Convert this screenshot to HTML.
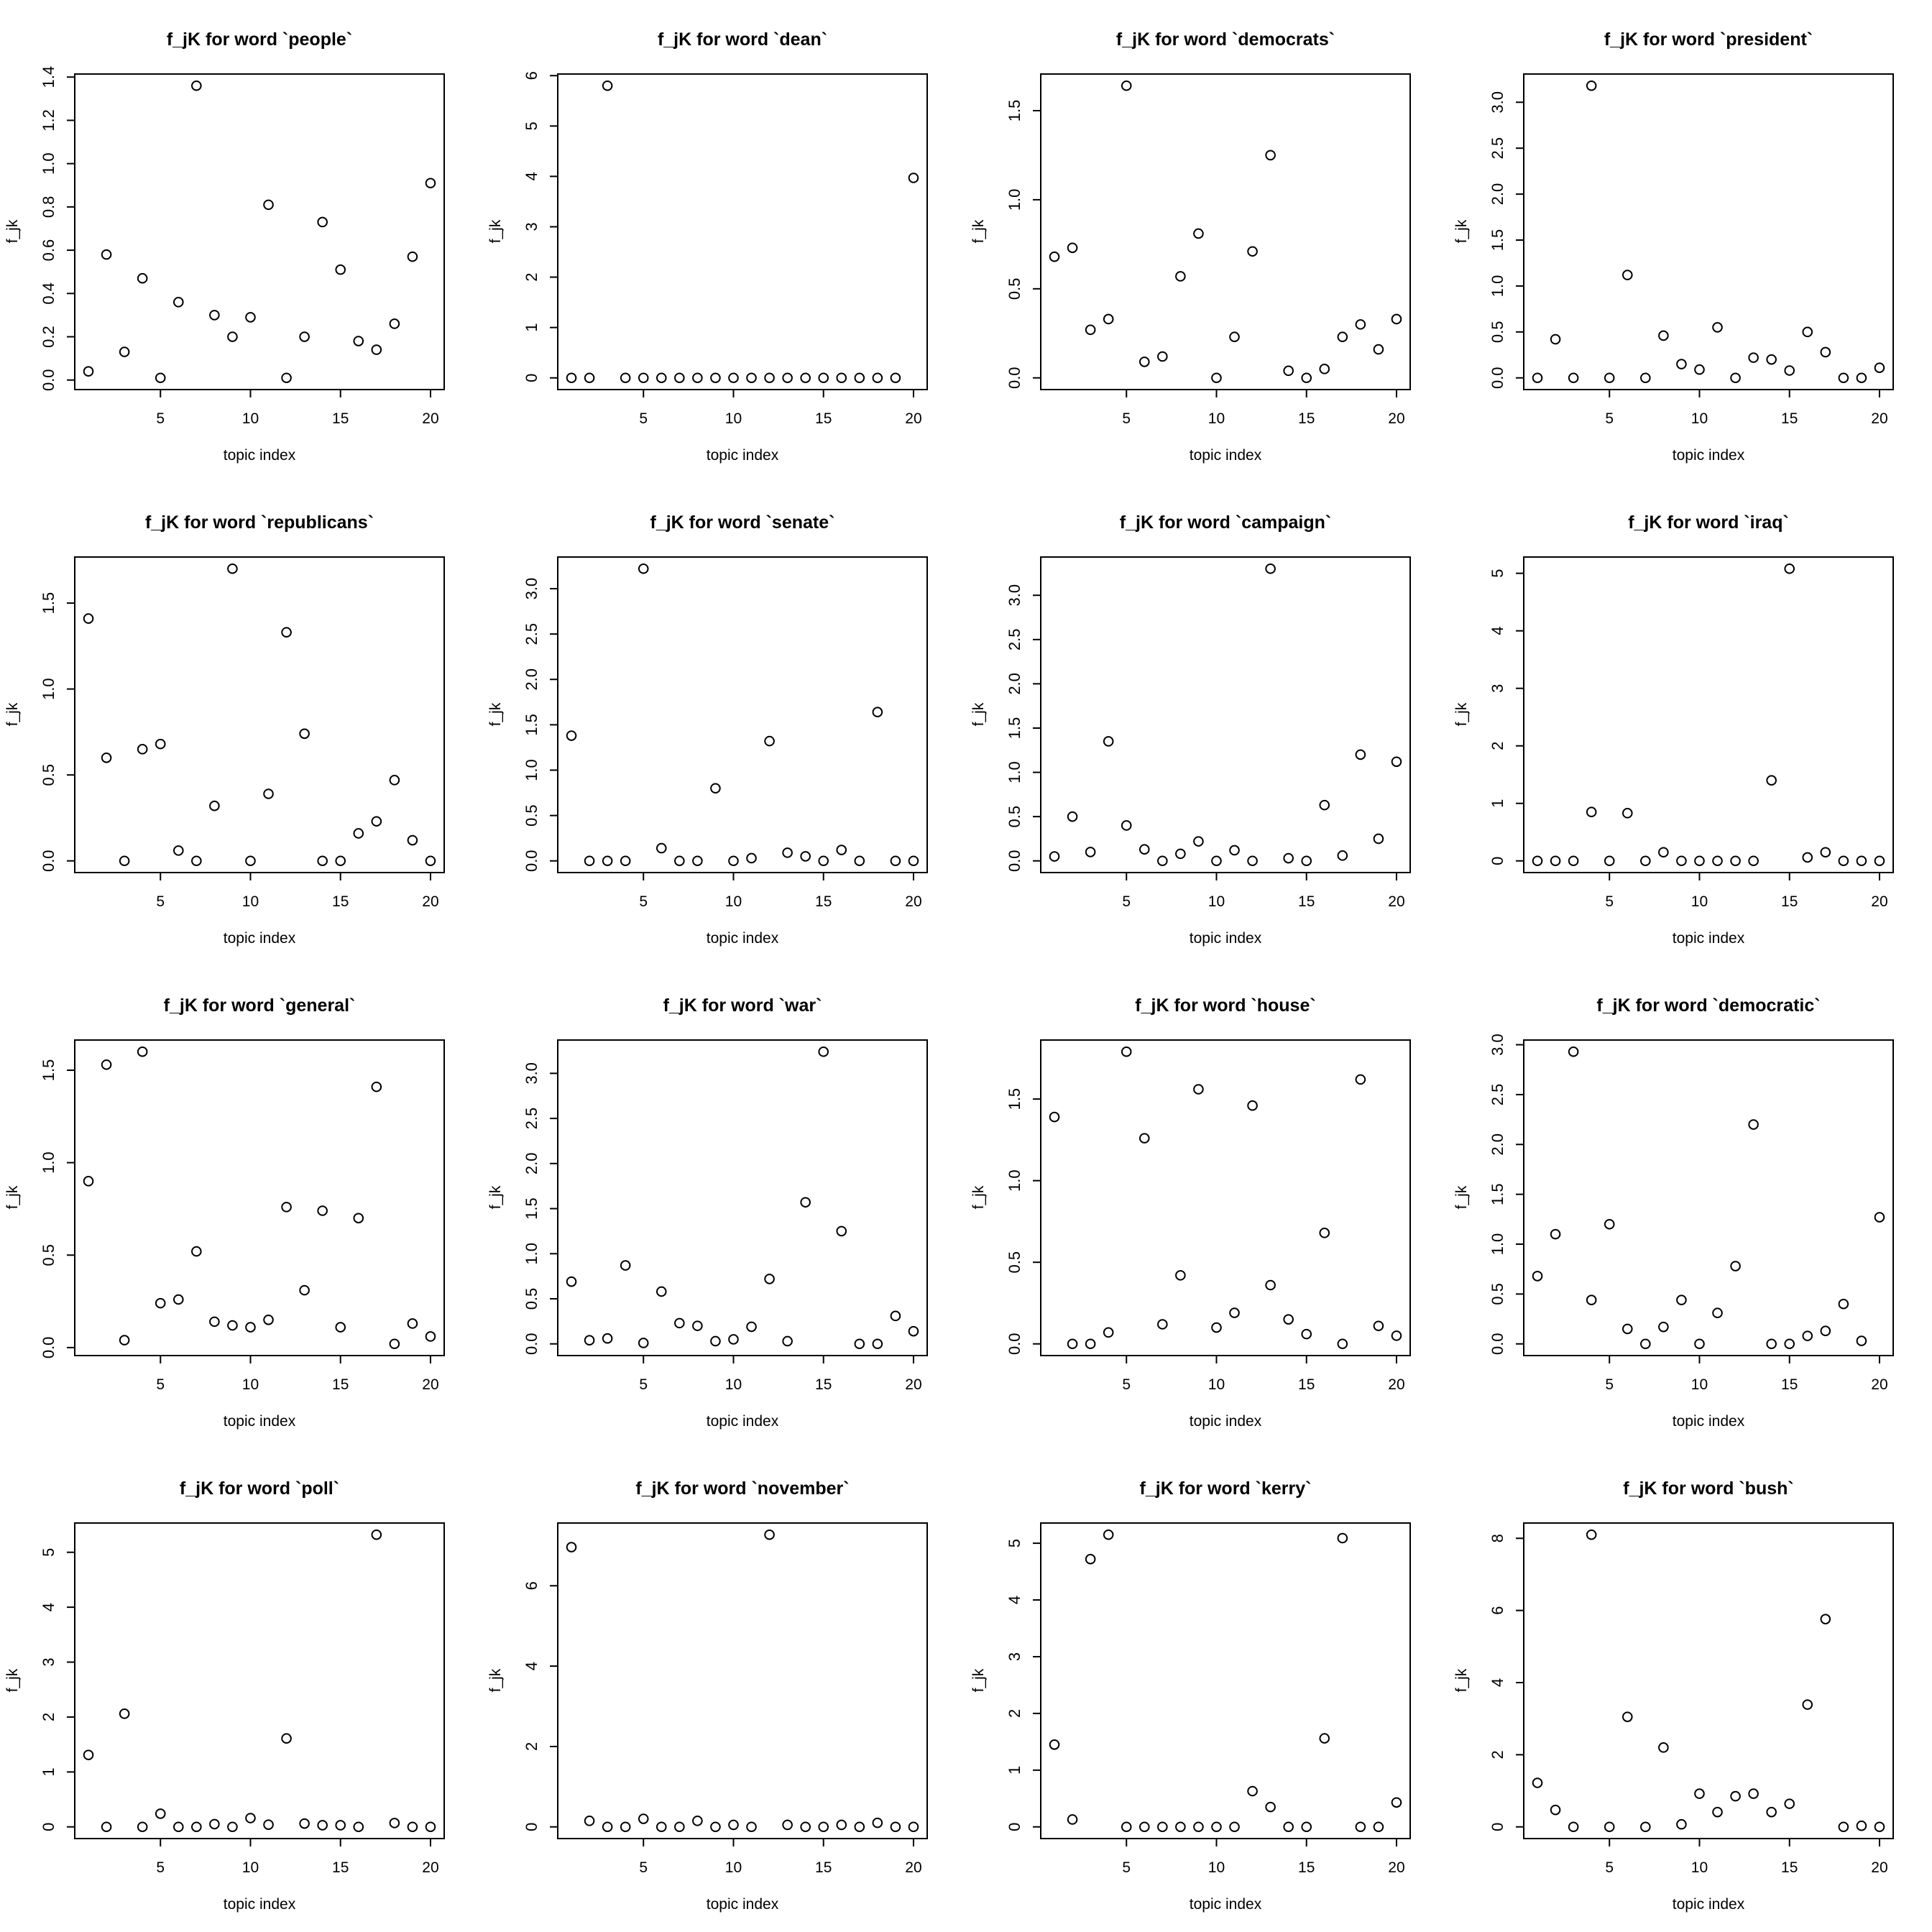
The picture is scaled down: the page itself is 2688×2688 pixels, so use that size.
<!DOCTYPE html>
<html><head><meta charset="utf-8"><style>
html,body{margin:0;padding:0;background:#fff}
svg{display:block}
text{font-family:"Liberation Sans",Arial,sans-serif;fill:#000}
</style></head><body>
<svg id="s" xmlns="http://www.w3.org/2000/svg" width="2688" height="2688" viewBox="0 0 2688 2688"></svg>
<script>
const P=[
["people",[0.04,0.58,0.13,0.47,0.01,0.36,1.36,0.30,0.20,0.29,0.81,0.01,0.20,0.73,0.51,0.18,0.14,0.26,0.57,0.91],[0,.2,.4,.6,.8,1,1.2,1.4],1],
["dean",[0,0,5.8,0,0,0,0,0,0,0,0,0,0,0,0,0,0,0,0,3.97],[0,1,2,3,4,5,6],0],
["democrats",[0.68,0.73,0.27,0.33,1.64,0.09,0.12,0.57,0.81,0,0.23,0.71,1.25,0.04,0,0.05,0.23,0.30,0.16,0.33],[0,.5,1,1.5],1],
["president",[0,0.42,0,3.18,0,1.12,0,0.46,0.15,0.09,0.55,0,0.22,0.2,0.08,0.5,0.28,0,0,0.11],[0,.5,1,1.5,2,2.5,3],1],
["republicans",[1.41,0.6,0,0.65,0.68,0.06,0,0.32,1.7,0,0.39,1.33,0.74,0,0,0.16,0.23,0.47,0.12,0],[0,.5,1,1.5],1],
["senate",[1.38,0,0,0,3.22,0.14,0,0,0.8,0,0.03,1.32,0.09,0.05,0,0.12,0,1.64,0,0],[0,.5,1,1.5,2,2.5,3],1],
["campaign",[0.05,0.5,0.1,1.35,0.4,0.13,0,0.08,0.22,0,0.12,0,3.3,0.03,0,0.63,0.06,1.2,0.25,1.12],[0,.5,1,1.5,2,2.5,3],1],
["iraq",[0,0,0,0.85,0,0.83,0,0.15,0,0,0,0,0,1.4,5.08,0.06,0.15,0,0,0],[0,1,2,3,4,5],0],
["general",[0.9,1.53,0.04,1.6,0.24,0.26,0.52,0.14,0.12,0.11,0.15,0.76,0.31,0.74,0.11,0.7,1.41,0.02,0.13,0.06],[0,.5,1,1.5],1],
["war",[0.69,0.04,0.06,0.87,0.01,0.58,0.23,0.2,0.03,0.05,0.19,0.72,0.03,1.57,3.24,1.25,0,0,0.31,0.14],[0,.5,1,1.5,2,2.5,3],1],
["house",[1.39,0,0,0.07,1.79,1.26,0.12,0.42,1.56,0.1,0.19,1.46,0.36,0.15,0.06,0.68,0,1.62,0.11,0.05],[0,.5,1,1.5],1],
["democratic",[0.68,1.1,2.93,0.44,1.2,0.15,0,0.17,0.44,0,0.31,0.78,2.2,0,0,0.08,0.13,0.4,0.03,1.27],[0,.5,1,1.5,2,2.5,3],1],
["poll",[1.31,0,2.06,0,0.24,0,0,0.05,0,0.16,0.04,1.61,0.06,0.03,0.03,0,5.32,0.07,0,0],[0,1,2,3,4,5],0],
["november",[6.96,0.15,0,0,0.2,0,0,0.15,0,0.05,0,7.27,0.05,0,0,0.05,0,0.1,0,0],[0,2,4,6],0],
["kerry",[1.45,0.13,4.72,5.15,0,0,0,0,0,0,0,0.63,0.35,0,0,1.56,5.09,0,0,0.43],[0,1,2,3,4,5],0],
["bush",[1.22,0.47,0,8.1,0,3.05,0,2.2,0.07,0.92,0.41,0.85,0.92,0.41,0.64,3.39,5.76,0,0.03,0],[0,2,4,6,8],0]
];
let h='';
const L=104,R=618,T=103,B=542;
P.forEach((p,i)=>{
 const ox=(i%4)*672, oy=Math.floor(i/4)*672;
 const [w,d,ticks,dec]=p;
 const mn=Math.min(...d),mx=Math.max(...d),rg=mx-mn;
 const y0=mn-0.04*rg,y1=mx+0.04*rg;
 const X=v=>L+(v-0.24)/20.52*(R-L);
 const Y=v=>B-(v-y0)/(y1-y0)*(B-T);
 let g=`<g transform="translate(${ox},${oy})">`;
 g+=`<rect x="${L}" y="${T}" width="${R-L}" height="${B-T}" fill="none" stroke="#000" stroke-width="2"/>`;
 g+=`<text x="361" y="63" font-size="25" font-weight="bold" text-anchor="middle">f_jK for word \`${w}\`</text>`;
 [5,10,15,20].forEach(t=>{const x=X(t);g+=`<line x1="${x}" y1="${B}" x2="${x}" y2="${B+11}" stroke="#000" stroke-width="2"/><text x="${x}" y="589" font-size="21" text-anchor="middle">${t}</text>`;});
 g+=`<line x1="${X(5)}" y1="${B}" x2="${X(20)}" y2="${B}" stroke="#000" stroke-width="2"/>`;
 const ya=Y(ticks[0]),yb=Y(ticks[ticks.length-1]);
 g+=`<line x1="${L}" y1="${ya}" x2="${L}" y2="${yb}" stroke="#000" stroke-width="2"/>`;
 ticks.forEach(t=>{const y=Y(t);g+=`<line x1="${L}" y1="${y}" x2="${L-11}" y2="${y}" stroke="#000" stroke-width="2"/><text transform="translate(75,${y}) rotate(-90)" font-size="22" text-anchor="middle">${dec?t.toFixed(1):t}</text>`;});
 g+=`<text transform="translate(24,322) rotate(-90)" font-size="21" text-anchor="middle">f_jk</text>`;
 g+=`<text x="361" y="640" font-size="21" text-anchor="middle">topic index</text>`;
 d.forEach((v,k)=>{g+=`<circle cx="${X(k+1)}" cy="${Y(v)}" r="6.3" fill="none" stroke="#000" stroke-width="2"/>`;});
 h+=g+'</g>';
});
document.getElementById('s').innerHTML=h;
</script>
</body></html>
